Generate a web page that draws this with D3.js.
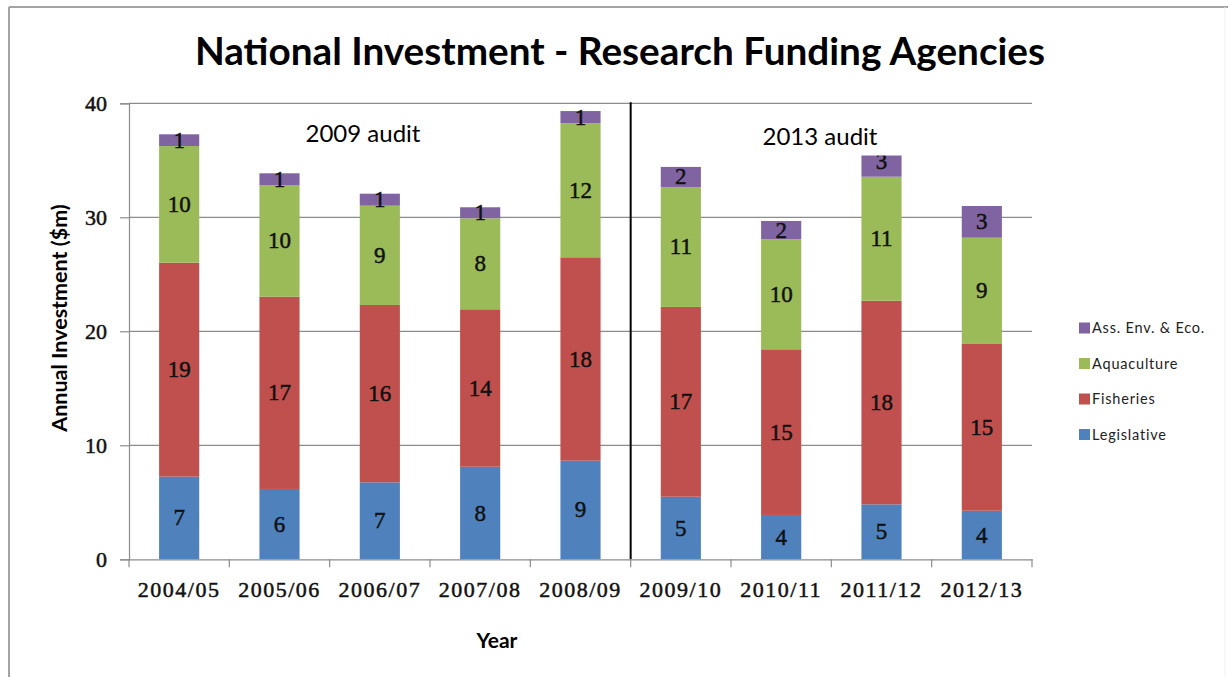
<!DOCTYPE html>
<html>
<head>
<meta charset="utf-8">
<script src="https://cdn.jsdelivr.net/npm/d3@7"></script>
<style>
  html, body { margin: 0; padding: 0; background: #fff; }
  svg { display: block; }
</style>
</head>
<body>
<div id="chart"></div>
<script>
// Financial years on the category axis
const years = ["2004/05", "2005/06", "2006/07", "2007/08", "2008/09",
               "2009/10", "2010/11", "2011/12", "2012/13"];

// Annual investment ($m) per agency, stacked bottom to top
const legislative = [7.25, 6.17, 6.75, 8.12, 8.65, 5.49, 3.89, 4.82, 4.26];
const fisheries   = [18.77, 16.87, 15.56, 13.81, 17.84, 16.65, 14.53, 17.86, 14.63];
const aquaculture = [10.23, 9.79, 8.71, 7.98, 11.76, 10.52, 9.65, 10.88, 9.32];
const assEnvEco   = [1.03, 1.03, 1.05, 0.97, 1.07, 1.76, 1.61, 2.6, 2.78];

const seriesNames = ["Legislative", "Fisheries", "Aquaculture", "Ass. Env. & Eco."];
const seriesColors = ["#4f81bd", "#c0504d", "#9bbb59", "#8064a2"];

const yTicks = [0, 10, 20, 30, 40];

// Audit periods annotated above the bars
const audits = [
  { label: "2009 audit", from: "2004/05", to: "2008/09" },
  { label: "2013 audit", from: "2009/10", to: "2012/13" }
];

const W = 1228, H = 677;
const plot = { left: 129, right: 1032, top: 103.3, bottom: 559.3 };
const serif = "'Liberation Serif', serif";

const svg = d3.select("#chart").append("svg")
  .attr("width", W).attr("height", H);

// Chart frame
svg.append("line").attr("x1", 9).attr("x2", W).attr("y1", 7).attr("y2", 7)
  .attr("stroke", "#a3a3a3").attr("stroke-width", 2);
svg.append("line").attr("x1", 9).attr("x2", 9).attr("y1", 7).attr("y2", H)
  .attr("stroke", "#a3a3a3").attr("stroke-width", 2);
svg.append("line").attr("x1", 1225).attr("x2", 1225).attr("y1", 7).attr("y2", H)
  .attr("stroke", "#efefef").attr("stroke-width", 1);

const x = d3.scaleBand().domain(years)
  .range([plot.left, plot.right])
  .paddingInner(0.6).paddingOuter(0.3);

const y = d3.scaleLinear().domain([0, 40]).range([plot.bottom, plot.top]);

// Gridlines
svg.append("g").selectAll("line").data(yTicks.filter(d => d > 0)).join("line")
  .attr("x1", plot.left).attr("x2", plot.right)
  .attr("y1", d => y(d)).attr("y2", d => y(d))
  .attr("stroke", "#8c8c8c").attr("stroke-width", 1.2);

// Stacked data
const rows = years.map((yr, i) => ({
  year: yr,
  "Legislative": legislative[i],
  "Fisheries": fisheries[i],
  "Aquaculture": aquaculture[i],
  "Ass. Env. & Eco.": assEnvEco[i]
}));
const stacked = d3.stack().keys(seriesNames)(rows);
const color = d3.scaleOrdinal().domain(seriesNames).range(seriesColors);

const layers = svg.append("g").selectAll("g").data(stacked).join("g")
  .attr("fill", d => color(d.key));
layers.selectAll("rect").data(d => d).join("rect")
  .attr("x", d => x(d.data.year))
  .attr("width", x.bandwidth())
  .attr("y", d => y(d[1]))
  .attr("height", d => y(d[0]) - y(d[1]));

// Divider between the two audit periods
const splitX = x("2009/10") - x.step() * x.paddingInner() / 2;
svg.append("line")
  .attr("x1", splitX).attr("x2", splitX)
  .attr("y1", y(40) - 1).attr("y2", y(0))
  .attr("stroke", "#000").attr("stroke-width", 2);

// Y axis
const yAxis = svg.append("g").attr("transform", `translate(${plot.left},0)`)
  .call(d3.axisLeft(y).tickValues(yTicks).tickSize(9).tickPadding(13).tickFormat(d3.format("d")));
yAxis.select(".domain").attr("stroke", "#8c8c8c").attr("stroke-width", 1.2);
yAxis.selectAll(".tick line").attr("stroke", "#8c8c8c").attr("stroke-width", 1.2);
yAxis.selectAll(".tick text")
  .attr("font-family", serif).attr("font-size", 22).attr("fill", "#111")
  .attr("stroke", "#111").attr("stroke-width", 0.5);

// X axis
const xAxis = svg.append("g").attr("transform", `translate(0,${plot.bottom})`)
  .call(d3.axisBottom(x).tickSize(0).tickPadding(22).tickSizeOuter(0));
xAxis.select(".domain").attr("stroke", "#8c8c8c").attr("stroke-width", 1.2);
xAxis.selectAll(".tick text")
  .attr("font-family", serif).attr("font-size", 22).attr("fill", "#111")
  .attr("letter-spacing", 1.5)
  .attr("stroke", "#111").attr("stroke-width", 0.5);
// Tick marks at category boundaries
const bounds = years.map(d => x(d) - x.step() * x.paddingInner() / 2).concat([plot.right]);
xAxis.append("g").selectAll("line").data(bounds).join("line")
  .attr("x1", d => d).attr("x2", d => d).attr("y1", 0).attr("y2", 8)
  .attr("stroke", "#8c8c8c").attr("stroke-width", 1.2);

// Segment value labels
layers.selectAll("text").data(d => d).join("text")
  .attr("x", d => x(d.data.year) + x.bandwidth() / 2)
  .attr("y", d => (y(d[0]) + y(d[1])) / 2 + 7.5)
  .attr("text-anchor", "middle")
  .attr("font-family", serif).attr("font-size", 23)
  .attr("fill", "#111").attr("stroke", "#111").attr("stroke-width", 0.5)
  .text(d => d3.format(".0f")(d[1] - d[0]));

// Audit annotations (text boxes with white fill)
const auditY = [141.5, 145];
const auditCx = [363, 820];
audits.forEach((a, i) => {
  const g = svg.append("g");
  if (i === 1) {
    g.append("rect").attr("x", 745).attr("y", 112).attr("width", 162).attr("height", 43.5)
      .attr("fill", "#fff");
  }
  g.append("text").attr("x", auditCx[i]).attr("y", auditY[i])
    .attr("text-anchor", "middle")
    .attr("font-family", "Lato, sans-serif").attr("font-size", 24).attr("fill", "#000")
    .text(a.label);
});

// Title
svg.append("text").attr("x", 620).attr("y", 65).attr("text-anchor", "middle")
  .attr("font-family", "Lato, sans-serif").attr("font-weight", "bold").attr("font-size", 38.7)
  .attr("fill", "#000")
  .text("National Investment - Research Funding Agencies");

// Axis titles
svg.append("text").attr("transform", "translate(67,318) rotate(-90)")
  .attr("text-anchor", "middle")
  .attr("font-family", "Lato, sans-serif").attr("font-weight", "bold").attr("font-size", 21.5)
  .attr("fill", "#000")
  .text("Annual Investment ($m)");
svg.append("text").attr("x", 497).attr("y", 648).attr("text-anchor", "middle")
  .attr("font-family", "Lato, sans-serif").attr("font-weight", "bold").attr("font-size", 21)
  .attr("fill", "#000")
  .text("Year");

// Legend (top entry is the top of the stack)
const legendItems = seriesNames.slice().reverse();
const legend = svg.append("g").selectAll("g").data(legendItems).join("g")
  .attr("transform", (d, i) => `translate(1079,${328 + i * 35.5})`);
legend.append("rect").attr("x", 0).attr("y", -5.5).attr("width", 11).attr("height", 11)
  .attr("fill", d => color(d));
legend.append("text").attr("x", 13).attr("y", 5)
  .attr("font-family", "Lato, sans-serif").attr("font-size", 14.5)
  .attr("letter-spacing", 0.8).attr("fill", "#222")
  .text(d => d);
</script>
</body>
</html>
